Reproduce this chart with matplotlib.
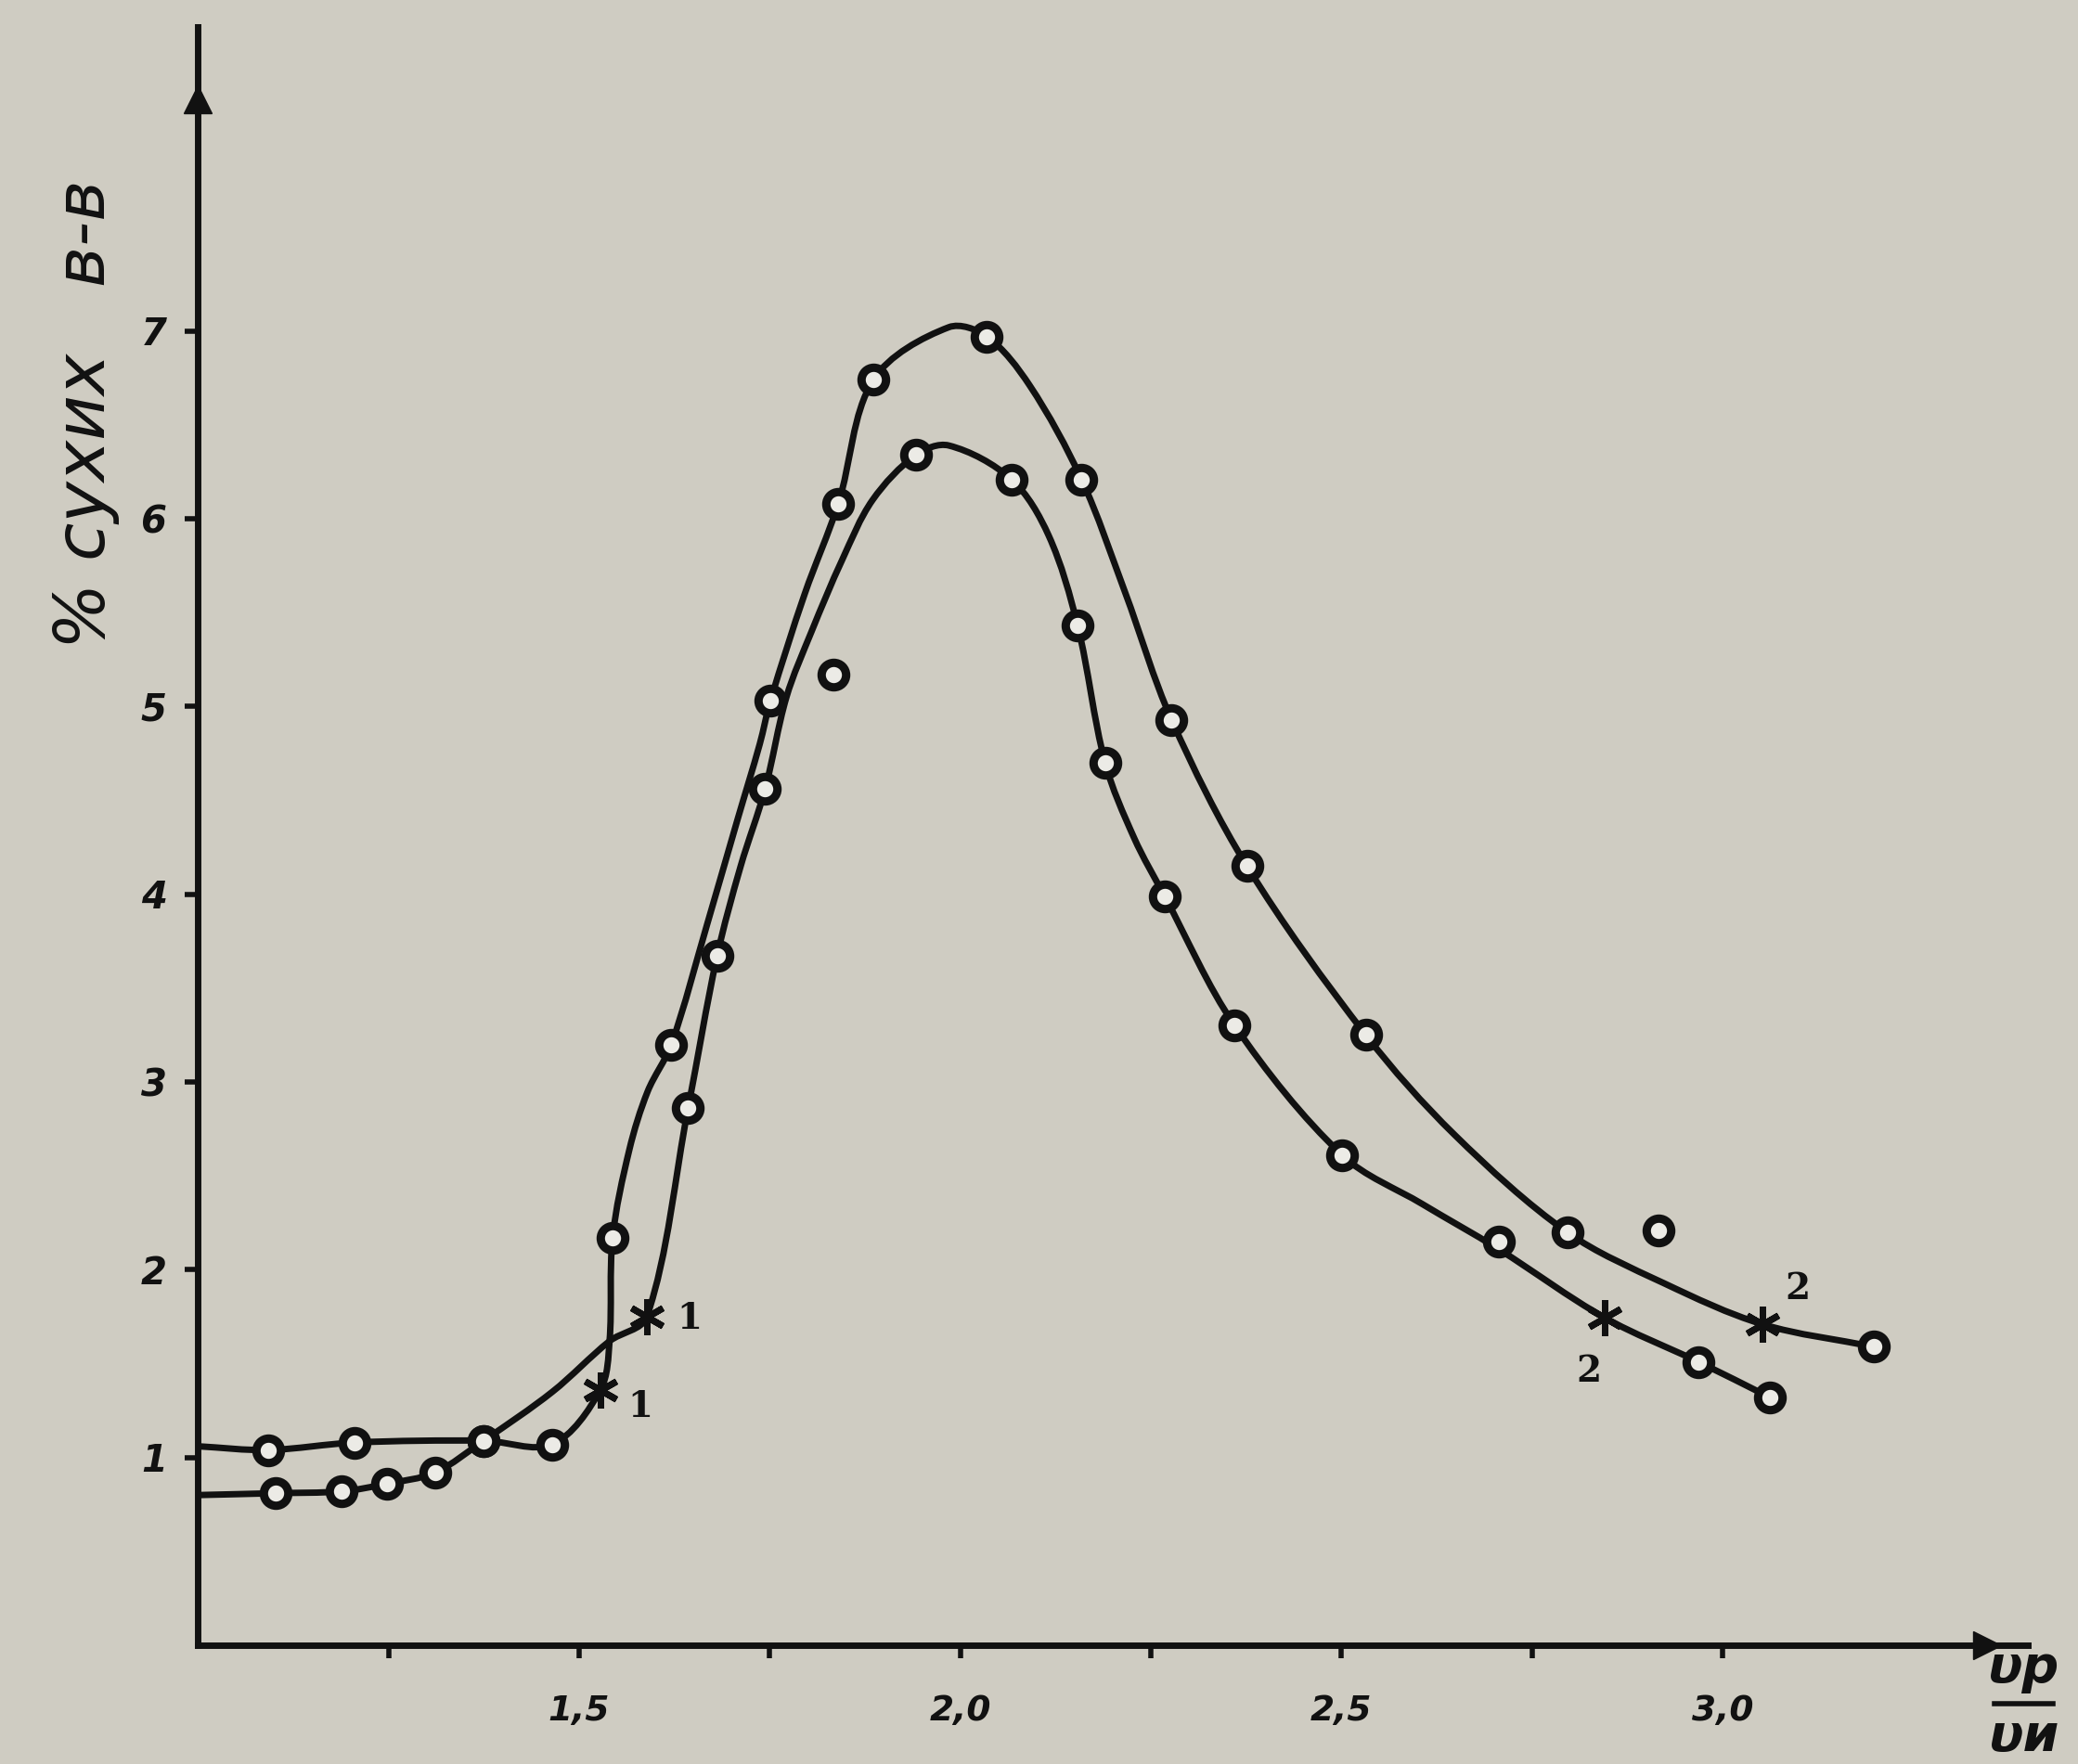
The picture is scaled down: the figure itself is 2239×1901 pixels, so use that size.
import numpy as np
import matplotlib
matplotlib.use("Agg")
import matplotlib.pyplot as plt
from matplotlib.path import Path
from matplotlib.patches import PathPatch
from matplotlib.lines import Line2D

# curve 1 (higher peak), traced line
c1_line_x = [1.0, 1.092, 1.206, 1.375, 1.465, 1.528, 1.540, 1.544, 1.566, 1.590, 1.621, 1.668,
             1.708, 1.737, 1.751, 1.796, 1.840, 1.886, 1.985, 2.035, 2.091, 2.159, 2.216, 2.277,
             2.376, 2.532, 2.648, 2.796, 2.922, 3.052, 3.198]
c1_line_y = [1.06, 1.04, 1.08, 1.09, 1.07, 1.36, 1.62, 2.17, 2.64, 2.95, 3.20, 3.84,
             4.40, 4.80, 5.03, 5.60, 6.08, 6.74, 7.02, 6.97, 6.71, 6.21, 5.61, 4.93,
             4.15, 3.25, 2.72, 2.20, 1.93, 1.71, 1.59]
# curve 1 measured points
c1_pts_x = [1.092, 1.206, 1.375, 1.465, 1.544, 1.621, 1.751, 1.840, 1.886, 2.035, 2.159,
            2.277, 2.376, 2.532, 2.796, 3.198]
c1_pts_y = [1.04, 1.08, 1.09, 1.07, 2.17, 3.20, 5.03, 6.08, 6.74, 6.97, 6.21,
            4.93, 4.15, 3.25, 2.20, 1.59]
c1_star_x = [1.528, 3.052]
c1_star_y = [1.36, 1.71]

# curve 2 (lower peak), traced line
c2_line_x = [1.0, 1.102, 1.189, 1.248, 1.311, 1.375, 1.465, 1.540, 1.589, 1.643, 1.681, 1.712,
             1.744, 1.772, 1.805, 1.845, 1.885, 1.942, 1.985, 2.067, 2.116, 2.154, 2.190, 2.228,
             2.268, 2.360, 2.501, 2.606, 2.706, 2.845, 2.968, 3.062]
c2_line_y = [0.80, 0.81, 0.82, 0.86, 0.92, 1.09, 1.35, 1.62, 1.75, 2.86, 3.67, 4.15,
             4.56, 5.05, 5.40, 5.78, 6.10, 6.34, 6.39, 6.21, 5.91, 5.43, 4.70, 4.30,
             3.99, 3.30, 2.61, 2.35, 2.11, 1.745, 1.51, 1.32]
c2_pts_x = [1.102, 1.189, 1.248, 1.311, 1.375, 1.643, 1.681, 1.744, 1.942, 2.067, 2.154,
            2.190, 2.268, 2.360, 2.501, 2.706, 2.968, 3.062]
c2_pts_y = [0.81, 0.82, 0.86, 0.92, 1.09, 2.86, 3.67, 4.56, 6.34, 6.21, 5.43,
            4.70, 3.99, 3.30, 2.61, 2.15, 1.51, 1.32]
c2_star_x = [1.589, 2.845]
c2_star_y = [1.75, 1.745]

# points off the curves
stray_x = [1.834, 2.916]
stray_y = [5.17, 2.21]

star_labels = ["1", "2", "1", "2"]
star_label_x = [1.580, 3.098, 1.645, 2.824]
star_label_y = [1.27, 1.90, 1.74, 1.46]

xticks_major = [1.5, 2.0, 2.5, 3.0]
xtick_labels = ["1,5", "2,0", "2,5", "3,0"]
xticks_minor = [1.25, 1.75, 2.25, 2.75]
yticks = [1, 2, 3, 4, 5, 6, 7]

paper = "#cfccc2"
ink = "#111111"

# px per unit on the original sheet, used to smooth the hand-drawn lines
SX, SY = 575.3, 141.7


def smooth_path(xs, ys):
    P = np.column_stack([np.asarray(xs) * SX, np.asarray(ys) * SY])
    t = np.concatenate([[0], np.cumsum(np.hypot(*np.diff(P, axis=0).T))])
    n = len(P)
    T = np.zeros_like(P)
    T[0] = (P[1] - P[0]) / (t[1] - t[0])
    T[-1] = (P[-1] - P[-2]) / (t[-1] - t[-2])
    for i in range(1, n - 1):
        T[i] = (P[i + 1] - P[i - 1]) / (t[i + 1] - t[i - 1])
    verts = [P[0]]
    codes = [Path.MOVETO]
    for i in range(n - 1):
        h = t[i + 1] - t[i]
        verts += [P[i] + T[i] * h / 3, P[i + 1] - T[i + 1] * h / 3, P[i + 1]]
        codes += [Path.CURVE4] * 3
    verts = np.array(verts) / [SX, SY]
    return Path(verts, codes)


fig = plt.figure(figsize=(22.39, 19.01), dpi=100, facecolor=paper)
ax = fig.add_axes([0.0952, 0.0673, 0.8806, 0.9175])
ax.set_facecolor(paper)
ax.set_xlim(1.0, 3.40)
ax.set_ylim(0, 8.62)

for xs, ys in [(c1_line_x, c1_line_y), (c2_line_x, c2_line_y)]:
    ax.add_patch(PathPatch(smooth_path(xs, ys), fill=False, lw=5, edgecolor=ink,
                           capstyle="round", joinstyle="round", zorder=2))

circ = dict(ls="none", marker="o", ms=19, mew=6.5, mec=ink, mfc="#ecebe6", zorder=3)
ax.plot(c1_pts_x, c1_pts_y, **circ)
ax.plot(c2_pts_x, c2_pts_y, **circ)
ax.plot(stray_x, stray_y, **circ)

star = dict(ls="none", marker=(6, 2, 0), ms=28, mew=5, mec=ink, zorder=3)
ax.plot(c1_star_x + c2_star_x, c1_star_y + c2_star_y, **star)

for s, x, y in zip(star_labels, star_label_x, star_label_y):
    ax.text(x, y, s, fontsize=28, fontweight="bold", fontfamily="DejaVu Serif",
            ha="center", va="center", color=ink)

# axes drawn like the hand sketch
for side in ["top", "right"]:
    ax.spines[side].set_visible(False)
for side in ["left", "bottom"]:
    ax.spines[side].set_linewidth(5)
    ax.spines[side].set_color(ink)

ax.plot([0.978], [0], transform=ax.transAxes, marker=">", ms=22, color=ink, clip_on=False)
ax.plot([0], [0.955], transform=ax.transAxes, marker="^", ms=22, color=ink, clip_on=False)

ax.set_xticks(xticks_major)
ax.set_xticklabels(xtick_labels)
ax.set_xticks(xticks_minor, minor=True)
ax.set_yticks(yticks)
ax.set_yticklabels([str(v) for v in yticks])
ax.tick_params(axis="both", which="both", direction="out", length=10, width=4, color=ink)
ax.tick_params(axis="x", pad=28, labelsize=27)
ax.tick_params(axis="y", pad=14, labelsize=29)
for lab in ax.get_xticklabels() + ax.get_yticklabels():
    lab.set_fontstyle("italic")
    lab.set_fontweight("bold")
    lab.set_color(ink)

fig.text(0.0415, 0.765, "% сухих   в-в", rotation=90, fontsize=54, fontstyle="italic",
         ha="center", va="center", color=ink)

fig.text(0.974, 0.054, "υр", fontsize=40, fontstyle="italic", fontweight="bold",
         ha="center", va="center", color=ink)
fig.text(0.974, 0.015, "υи", fontsize=40, fontstyle="italic", fontweight="bold",
         ha="center", va="center", color=ink)
fig.add_artist(Line2D([0.960, 0.988], [0.034, 0.034], transform=fig.transFigure,
                      lw=4, color=ink))

fig.savefig("out.png", dpi=100, facecolor=paper)
